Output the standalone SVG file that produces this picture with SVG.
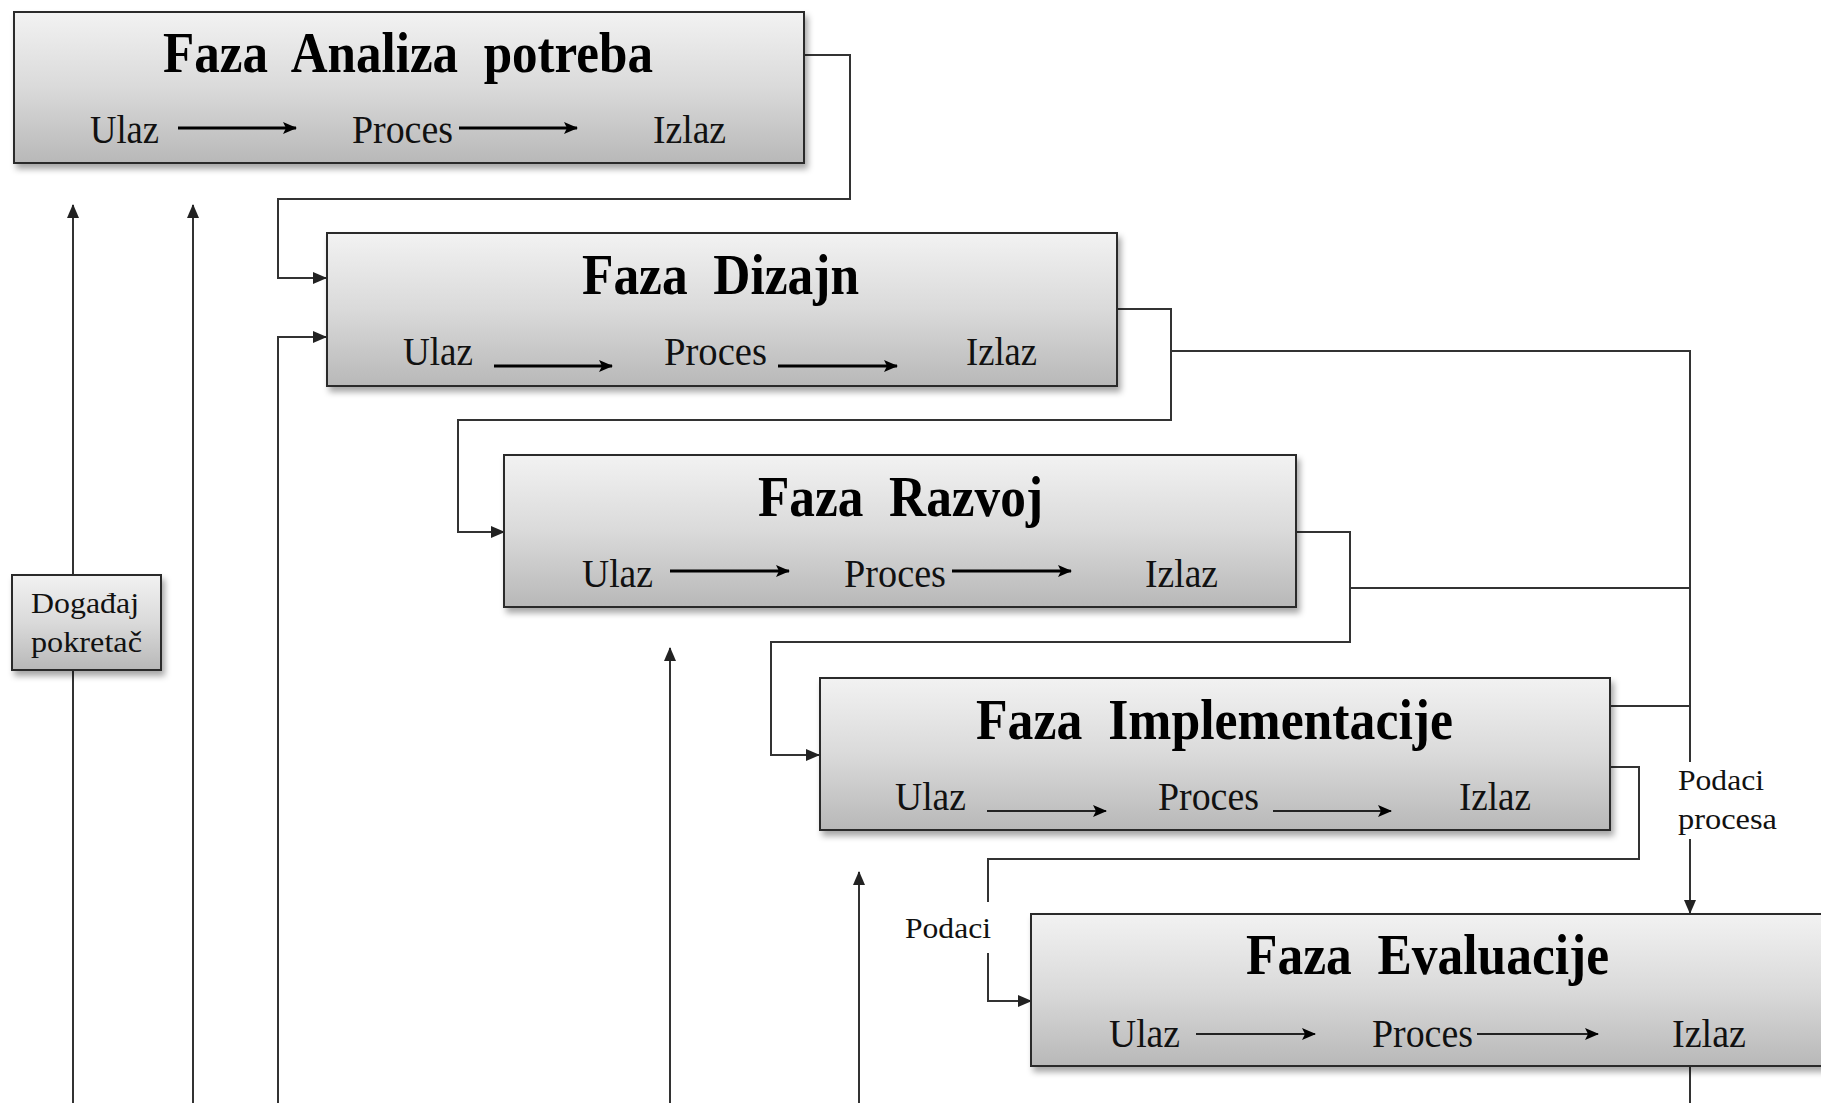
<svg xmlns="http://www.w3.org/2000/svg" width="1821" height="1103" viewBox="0 0 1821 1103">
<defs>
<linearGradient id="g" x1="0" y1="0" x2="0" y2="1">
<stop offset="0" stop-color="#f2f2f2"/>
<stop offset="0.5" stop-color="#dadada"/>
<stop offset="1" stop-color="#b8b8b8"/>
</linearGradient>
<filter id="sh" x="-5%" y="-10%" width="115%" height="130%">
<feDropShadow dx="3" dy="5" stdDeviation="3" flood-color="#000" flood-opacity="0.35"/>
</filter>
<marker id="ca" markerUnits="userSpaceOnUse" markerWidth="14" markerHeight="12" refX="13" refY="6" orient="auto">
<path d="M0,0 L14,6 L0,12 Z" fill="#222"/>
</marker>
<marker id="ta" markerUnits="userSpaceOnUse" markerWidth="14" markerHeight="12" refX="13" refY="6" orient="auto">
<path d="M0,0 L14,6 L0,12 L3,6 Z" fill="#000"/>
</marker>
</defs>
<style>
.box{fill:url(#g);stroke:#2b2b2b;stroke-width:2;filter:url(#sh)}
.t{font-family:"Liberation Serif",serif;font-weight:bold;font-size:58px;fill:#000;white-space:pre}
.b{font-family:"Liberation Serif",serif;font-size:41px;fill:#111}
.s{font-family:"Liberation Serif",serif;font-size:29px;fill:#111}
.c{fill:none;stroke:#333;stroke-width:2}
.ta{stroke:#000;stroke-width:3;marker-end:url(#ta)}
.tb{stroke:#222;stroke-width:2;marker-end:url(#ta)}
</style>
<rect width="1821" height="1103" fill="#fff"/>

<g id="connectors">
<path class="c" d="M804,55 H850 V199 H278 V278 H326" marker-end="url(#ca)"/>
<path class="c" d="M278,1103 V337 H326" marker-end="url(#ca)"/>
<path class="c" d="M1117,309 H1171 V420 H458 V532 H504" marker-end="url(#ca)"/>
<path class="c" d="M1171,351 H1690 V762"/>
<path class="c" d="M1690,839 V913" marker-end="url(#ca)"/>
<path class="c" d="M1296,532 H1350 V642 H771 V755 H819" marker-end="url(#ca)"/>
<path class="c" d="M1350,588 H1690"/>
<path class="c" d="M1610,706 H1690"/>
<path class="c" d="M1610,767 H1639 V859 H988 V902"/>
<path class="c" d="M988,953 V1001 H1031" marker-end="url(#ca)"/>
<path class="c" d="M1690,1066 V1103"/>
<path class="c" d="M73,1103 V205" marker-end="url(#ca)"/>
<path class="c" d="M193,1103 V205" marker-end="url(#ca)"/>
<path class="c" d="M670,1103 V648" marker-end="url(#ca)"/>
<path class="c" d="M859,1103 V872" marker-end="url(#ca)"/>
</g>

<g id="node-analiza">
<rect class="box" x="14" y="12" width="790" height="151"/>
<text class="t" xml:space="preserve" x="163" y="72" textLength="490" lengthAdjust="spacingAndGlyphs">Faza  Analiza  potreba</text>
<text class="b" x="90" y="143" textLength="69" lengthAdjust="spacingAndGlyphs">Ulaz</text>
<line class="ta" x1="178" y1="128" x2="296" y2="128"/>
<text class="b" x="352" y="143" textLength="101" lengthAdjust="spacingAndGlyphs">Proces</text>
<line class="ta" x1="459" y1="128" x2="577" y2="128"/>
<text class="b" x="653" y="143" textLength="73" lengthAdjust="spacingAndGlyphs">Izlaz</text>
</g>

<g id="node-dizajn">
<rect class="box" x="327" y="233" width="790" height="153"/>
<text class="t" xml:space="preserve" x="582" y="294" textLength="277" lengthAdjust="spacingAndGlyphs">Faza  Dizajn</text>
<text class="b" x="403" y="365" textLength="70" lengthAdjust="spacingAndGlyphs">Ulaz</text>
<line class="ta" x1="494" y1="366" x2="612" y2="366"/>
<text class="b" x="664" y="365" textLength="103" lengthAdjust="spacingAndGlyphs">Proces</text>
<line class="ta" x1="778" y1="366" x2="897" y2="366"/>
<text class="b" x="966" y="365" textLength="71" lengthAdjust="spacingAndGlyphs">Izlaz</text>
</g>

<g id="node-razvoj">
<rect class="box" x="504" y="455" width="792" height="152"/>
<text class="t" xml:space="preserve" x="758" y="516" textLength="285" lengthAdjust="spacingAndGlyphs">Faza  Razvoj</text>
<text class="b" x="582" y="587" textLength="71" lengthAdjust="spacingAndGlyphs">Ulaz</text>
<line class="ta" x1="670" y1="571" x2="789" y2="571"/>
<text class="b" x="844" y="587" textLength="102" lengthAdjust="spacingAndGlyphs">Proces</text>
<line class="ta" x1="952" y1="571" x2="1071" y2="571"/>
<text class="b" x="1145" y="587" textLength="73" lengthAdjust="spacingAndGlyphs">Izlaz</text>
</g>

<g id="node-implementacija">
<rect class="box" x="820" y="678" width="790" height="152"/>
<text class="t" xml:space="preserve" x="976" y="739" textLength="477" lengthAdjust="spacingAndGlyphs">Faza  Implementacije</text>
<text class="b" x="895" y="810" textLength="71" lengthAdjust="spacingAndGlyphs">Ulaz</text>
<line class="tb" x1="987" y1="811" x2="1106" y2="811"/>
<text class="b" x="1158" y="810" textLength="101" lengthAdjust="spacingAndGlyphs">Proces</text>
<line class="tb" x1="1273" y1="811" x2="1391" y2="811"/>
<text class="b" x="1459" y="810" textLength="72" lengthAdjust="spacingAndGlyphs">Izlaz</text>
</g>

<g id="node-evaluacija">
<rect class="box" x="1031" y="914" width="800" height="152"/>
<text class="t" xml:space="preserve" x="1246" y="974" textLength="363" lengthAdjust="spacingAndGlyphs">Faza  Evaluacije</text>
<text class="b" x="1109" y="1047" textLength="71" lengthAdjust="spacingAndGlyphs">Ulaz</text>
<line class="tb" x1="1196" y1="1034" x2="1315" y2="1034"/>
<text class="b" x="1372" y="1047" textLength="101" lengthAdjust="spacingAndGlyphs">Proces</text>
<line class="tb" x1="1477" y1="1034" x2="1598" y2="1034"/>
<text class="b" x="1672" y="1047" textLength="74" lengthAdjust="spacingAndGlyphs">Izlaz</text>
</g>

<g id="node-dogadjaj">
<rect class="box" x="12" y="575" width="149" height="95"/>
<text class="s" x="31" y="613" textLength="108" lengthAdjust="spacingAndGlyphs">Događaj</text>
<text class="s" x="31" y="652" textLength="111" lengthAdjust="spacingAndGlyphs">pokretač</text>
</g>

<g id="label-podaci">
<text class="s" x="905" y="938" textLength="86" lengthAdjust="spacingAndGlyphs">Podaci</text>
</g>
<g id="label-podaci-procesa">
<text class="s" x="1678" y="790" textLength="86" lengthAdjust="spacingAndGlyphs">Podaci</text>
<text class="s" x="1678" y="829" textLength="99" lengthAdjust="spacingAndGlyphs">procesa</text>
</g>
</svg>
